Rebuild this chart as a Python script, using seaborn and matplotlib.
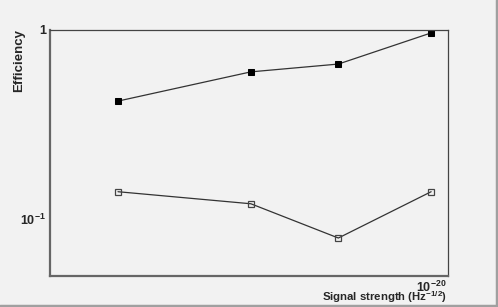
import numpy as np
import pandas as pd
import matplotlib
matplotlib.use("Agg")
import matplotlib.pyplot as plt
import seaborn as sns
from matplotlib.ticker import LogLocator, NullFormatter, FixedLocator

# signal strength values (Hz^-1/2)
strength = [3e-21, 5e-21, 7e-21, 1e-20]
eff_filled = [0.42, 0.60, 0.66, 0.965]
eff_open = [0.139, 0.12, 0.079, 0.139]

df = pd.DataFrame({
    "strength": strength * 2,
    "eff": eff_filled + eff_open,
    "kind": ["filled"] * 4 + ["open"] * 4,
})

sns.set_style("white")
plt.rcParams["font.family"] = ["Liberation Sans", "DejaVu Sans"]
plt.rcParams["mathtext.fontset"] = "custom"
plt.rcParams["mathtext.rm"] = "Liberation Sans:bold"
plt.rcParams["mathtext.it"] = "Liberation Sans:bold"
plt.rcParams["mathtext.bf"] = "Liberation Sans:bold"
plt.rcParams["mathtext.default"] = "rm"

bg = "#f2f2f2"
fig = plt.figure(figsize=(4.98, 3.07), dpi=100, facecolor=bg)
ax = fig.add_axes([50 / 498, 1 - 276 / 307, 398 / 498, 246 / 307])
ax.set_facecolor(bg)

sns.lineplot(data=df[df.kind == "filled"], x="strength", y="eff", ax=ax,
             color="#333333", lw=0.9, marker="s", markersize=5,
             markerfacecolor="black", markeredgecolor="black")
sns.lineplot(data=df[df.kind == "open"], x="strength", y="eff", ax=ax,
             color="#333333", lw=0.9, marker="s", markersize=5,
             markerfacecolor="none", markeredgecolor="#444444", markeredgewidth=0.9)

ax.set_xscale("log")
ax.set_yscale("log")
ax.set_xlim(2.31e-21, 1.067e-20)
ax.set_ylim(0.0497, 1.0)

# y ticks
ax.yaxis.set_major_locator(FixedLocator([0.1, 1.0]))
ax.yaxis.set_minor_locator(LogLocator(base=10, subs=np.arange(2, 10)))
ax.yaxis.set_minor_formatter(NullFormatter())
ax.set_yticklabels(["10$^{-1}$", "1"], fontweight="bold")
ax.tick_params(axis="y", which="major", direction="in", length=12, width=0.8,
               color="#444444", labelsize=9, pad=3)
ax.tick_params(axis="y", which="minor", direction="in", length=6, width=0.8,
               color="#444444")

# x ticks
ax.xaxis.set_major_locator(FixedLocator([1e-20]))
ax.xaxis.set_minor_locator(LogLocator(base=10, subs=np.arange(2, 10)))
ax.xaxis.set_minor_formatter(NullFormatter())
ax.set_xticklabels([""])
ax.tick_params(axis="x", which="major", direction="in", length=5, width=0.8,
               color="#444444")
ax.tick_params(axis="x", which="minor", direction="in", length=3, width=0.8,
               color="#444444")
ax.text(1e-20, -0.015, "10$^{-20}$", transform=ax.get_xaxis_transform(),
        ha="center", va="top", fontsize=9, fontweight="bold")

for s in ["left", "bottom"]:
    ax.spines[s].set_color("#666666")
    ax.spines[s].set_linewidth(1.6)
for s in ["top", "right"]:
    ax.spines[s].set_color("#444444")
    ax.spines[s].set_linewidth(0.9)

ax.set_xlabel("")
ax.set_ylabel("")
fig.text(447 / 498, 1 - 297 / 307, "Signal strength (Hz$^{-1/2}$)", ha="right",
         va="center", fontsize=8.2, fontweight="bold")
fig.text(19 / 498, 1 - 60 / 307, "Efficiency", rotation=90, ha="center",
         va="center", fontsize=9.5, fontweight="bold")

# canvas bevel border
fig.add_artist(plt.Line2D([0, 1], [0.004, 0.004], transform=fig.transFigure,
                          color="#a0a0a0", lw=2.5))
fig.add_artist(plt.Line2D([0.997, 0.997], [0, 1], transform=fig.transFigure,
                          color="#a0a0a0", lw=2.5))

fig.savefig("out.png", dpi=100, facecolor=bg)
